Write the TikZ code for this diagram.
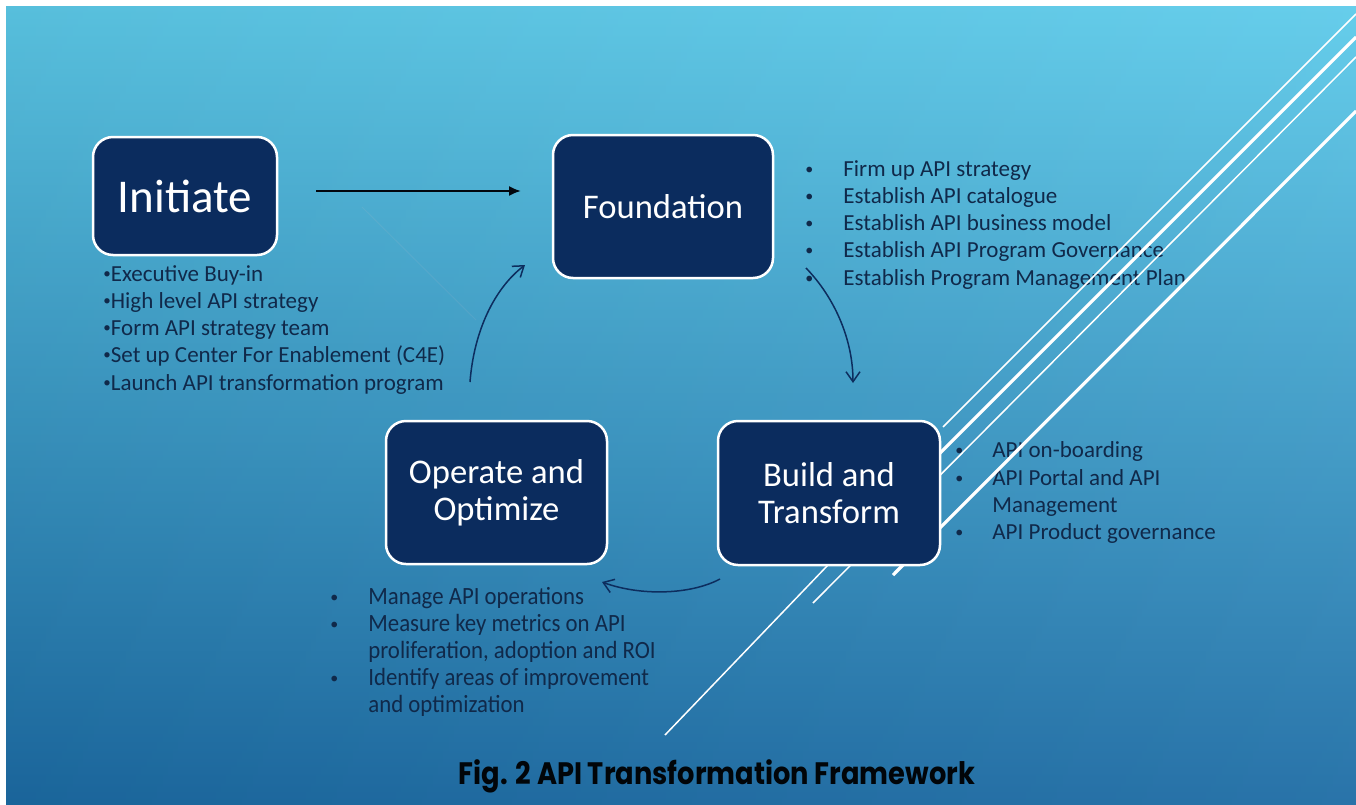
\documentclass[tikz,border=0pt]{standalone}
\usepackage{fontspec}
\setmainfont{Carlito}
\newfontfamily\capfont[FakeStretch=0.88]{Poppins}
\newfontfamily\narrowfont[FakeStretch=0.92]{Carlito}
\usetikzlibrary{arrows.meta}
\definecolor{bgtop}{HTML}{5DCBEA}
\definecolor{bgmid}{HTML}{3A9ECB}
\definecolor{bgbot}{HTML}{1C6BA4}
\definecolor{boxfill}{HTML}{0B2C5E}
\definecolor{listcol}{HTML}{10294A}
\definecolor{arrcol}{HTML}{0D2D5E}
\newcommand{\smallbul}{\raisebox{0.12em}{\fontsize{7.5}{8}\selectfont•}}
\tikzset{
  stagebox/.style={draw=white, line width=1.25pt, fill=boxfill, rounded corners=10pt,
    text=white, align=center, inner sep=0pt},
  ltxt/.style={anchor=base west, inner sep=0pt, text=listcol, font=\fontsize{11.5}{13}\selectfont},
  otxt/.style={anchor=base west, inner sep=0pt, text=listcol, font=\narrowfont\fontsize{12.4}{14}\selectfont},
  bul/.style={anchor=base west, inner sep=0pt, text=listcol, font=\fontsize{8}{9}\selectfont},
  deco/.style={white, line width=0.75pt},
  decothick/.style={white, line width=1.6pt},
  curvarrow/.style={arrcol, line width=0.75pt, -{Straight Barb[length=5pt,width=7pt]}},
}
\begin{document}
\begin{tikzpicture}[x=0.5pt,y=-0.5pt]
\useasboundingbox (0,0) rectangle (1356,804);
\fill[white] (0,0) rectangle (1356,804);
\shade[top color=bgtop, middle color=bgmid, bottom color=bgbot] (6,6) rectangle (1356,804);
\shade[left color=black, right color=white, opacity=0.06] (6,6) rectangle (1356,804);

% faint trace
\coordinate (fa) at (362,207);
\coordinate (fb) at (476,320);
\draw[white!80!red, line width=0.5pt, opacity=0.08] (fa) -- (fb);

% Initiate list
\node[ltxt] (i1) at (103,281) {\smallbul Executive Buy-in};
\node[ltxt] (i2) at (103,308) {\smallbul High level API strategy};
\node[ltxt] (i3) at (103,335) {\smallbul Form API strategy team};
\node[ltxt] (i4) at (103,362) {\smallbul Set up Center For Enablement (C4E)};
\node[ltxt] (i5) at (103,390) {\smallbul Launch API transformation program};

% Foundation list
\foreach \y [count=\k] in {176,203,230,257,285}{
  \node[bul] (fb\k) at (805,\y-2) {•};
}
\node[ltxt] (f1) at (843,176) {Firm up API strategy};
\node[ltxt] (f2) at (843,203) {Establish API catalogue};
\node[ltxt] (f3) at (843,230) {Establish API business model};
\node[ltxt] (f4) at (843,257) {Establish API Program Governance};
\node[ltxt] (f5) at (843,285) {Establish Program Management Plan};

% Build list
\foreach \y [count=\k] in {457,485,539}{
  \node[bul] (bb\k) at (955,\y-2) {•};
}
\node[ltxt] (b1) at (992,457) {API on-boarding};
\node[ltxt] (b2) at (992,485) {API Portal and API};
\node[ltxt] (b3) at (992,512) {Management};
\node[ltxt] (b4) at (992,539) {API Product governance};

% Operate list
\foreach \y [count=\k] in {604,631,685}{
  \node[bul] (ob\k) at (330,\y-2) {•};
}
\node[otxt] (o1) at (368,604) {Manage API operations};
\node[otxt] (o2) at (368,631) {Measure key metrics on API};
\node[otxt] (o3) at (368,658) {proliferation, adoption and ROI};
\node[otxt] (o4) at (368,685) {Identify areas of improvement};
\node[otxt] (o5) at (368,712) {and optimization};

% decorative lines
\draw[deco] (1356,14) -- (943,427);
\draw[decothick] (1356,37) -- (828,565);
\draw[deco] (828,565) -- (665,735);
\draw[deco] (1356,57) -- (813,603);
\draw[decothick] (1356,111) -- (893,575);

% stage boxes
\node[stagebox, minimum width=92pt, minimum height=59pt, font=\fontsize{23.5}{26}\selectfont]
  (init) at (185,196) {Initiate};
\node[stagebox, minimum width=110pt, minimum height=71.5pt, font=\fontsize{17.3}{18.5}\selectfont]
  (found) at (663,206.5) {Foundation};
\node[stagebox, minimum width=111pt, minimum height=72pt, font=\fontsize{17.3}{18.5}\selectfont]
  (build) at (829,493) {Build and\\Transform};
\node[stagebox, minimum width=110.5pt, minimum height=71.5pt, font=\fontsize{17.3}{18.5}\selectfont]
  (oper) at (496.5,492.5) {Operate and\\Optimize};

% connectors
\coordinate (s1) at (316,191);
\coordinate (e1) at (521,191);
\draw[black!85!arrcol, line width=1pt, -{Latex[length=6pt,width=5pt]}] (s1) -- (e1);

\coordinate (s2) at (470,382);
\coordinate (e2) at (525,265);
\draw[curvarrow] (s2) .. controls (474,330) and (495,288) .. (e2);

\coordinate (s3) at (806,268);
\coordinate (e3) at (853,383);
\draw[curvarrow] (s3) .. controls (835,298) and (853,340) .. (e3);

\coordinate (s4) at (720,579);
\coordinate (e4) at (602,582);
\draw[curvarrow] (s4) .. controls (690,595) and (640,596) .. (e4);

% caption
\node[anchor=center, inner sep=0pt, text=black!90!arrcol, font=\capfont\bfseries\fontsize{15.5}{17}\selectfont]
  (cap) at (717,776) {Fig. 2 API Transformation Framework};
\end{tikzpicture}
\end{document}
